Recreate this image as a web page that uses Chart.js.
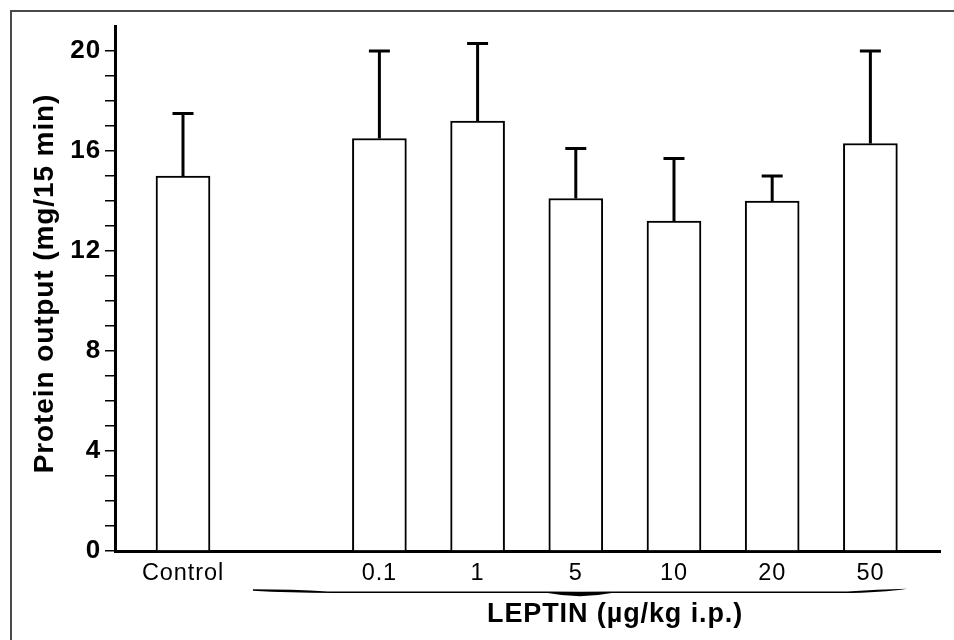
<!DOCTYPE html>
<html>
<head>
<meta charset="utf-8">
<script src="https://cdn.jsdelivr.net/npm/chart.js@4.4.1/dist/chart.umd.min.js"></script>
<style>
html,body{margin:0;padding:0;background:#fff;}
canvas{display:block;}
</style>
</head>
<body>
<canvas id="c" width="954" height="640"></canvas>
<script>
// ---- data ----
const categories = ['Control', '', '0.1', '1', '5', '10', '20', '50'];
const means = [15.0, null, 16.5, 17.2, 14.1, 13.2, 14.0, 16.3];
const sems  = [2.5,  null, 3.5,  3.1,  2.0,  2.5,  1.0,  3.7];
const yLabelEvery = 4;
const yMax = 21;
const yTitle = 'Protein output (mg/15 min)';
const groupTitle = 'LEPTIN (µg/kg i.p.)';

// ---- layout / style constants ----
const FONT = '"Liberation Sans", Arial, Helvetica, sans-serif';
const SPACING = '0.9px';
const X_MIN = -0.6925, X_MAX = 7.709;
const BRACE_FROM = 0.712, BRACE_MID = 4.04, BRACE_TO = 7.375;
const TITLE_AT = 4.40;
const Y_TITLE_X = 45, Y_TITLE_CENTER = 10.7; // centre of the y title, in axis units

const points = [];
categories.forEach((c, i) => { if (means[i] !== null) points.push({ x: i, y: means[i] }); });

const framePlugin = {
  id: 'frame',
  beforeUpdate(chart) { chart.ctx.letterSpacing = SPACING; },
  beforeDraw(chart) {
    const ctx = chart.ctx;
    ctx.save();
    ctx.fillStyle = '#fff';
    ctx.fillRect(0, 0, chart.width, chart.height);
    ctx.strokeStyle = '#4a4a4a';
    ctx.lineWidth = 2;
    ctx.beginPath();
    ctx.moveTo(11, chart.height);
    ctx.lineTo(11, 11);
    ctx.lineTo(chart.width, 11);
    ctx.stroke();
    ctx.restore();
    ctx.letterSpacing = SPACING;
  }
};

const errorBarPlugin = {
  id: 'errorBars',
  afterDatasetsDraw(chart) {
    const meta = chart.getDatasetMeta(0);
    const ys = chart.scales.y;
    const ctx = chart.ctx;
    const data = chart.data.datasets[0].data;
    ctx.save();
    ctx.strokeStyle = '#000';
    ctx.lineWidth = 3;
    meta.data.forEach((el, j) => {
      const i = data[j].x;
      const top = ys.getPixelForValue(means[i] + sems[i]);
      const base = ys.getPixelForValue(means[i]);
      ctx.beginPath();
      ctx.moveTo(el.x, base);
      ctx.lineTo(el.x, top);
      ctx.stroke();
      ctx.beginPath();
      ctx.moveTo(el.x - 10.5, top);
      ctx.lineTo(el.x + 10.5, top);
      ctx.stroke();
    });
    ctx.restore();
  }
};

const textPlugin = {
  id: 'texts',
  afterDraw(chart) {
    const xs = chart.scales.x;
    const ys = chart.scales.y;
    const ctx = chart.ctx;
    const xL = xs.getPixelForValue(BRACE_FROM);
    const xR = xs.getPixelForValue(BRACE_TO);
    const xC = xs.getPixelForValue(BRACE_MID);
    const y0 = chart.chartArea.bottom + 41.3;
    ctx.save();
    ctx.fillStyle = '#000';
    ctx.beginPath();
    ctx.moveTo(xL, y0 - 3);
    ctx.quadraticCurveTo(xL + 40, y0 - 3, xL + 75, y0 - 0.75);
    ctx.lineTo(xC - 32, y0 - 0.75);
    ctx.quadraticCurveTo(xC, y0 - 0.5, xC + 32, y0 - 0.75);
    ctx.lineTo(xR - 60, y0 - 0.75);
    ctx.quadraticCurveTo(xR - 30, y0 - 3, xR, y0 - 3.5);
    ctx.quadraticCurveTo(xR - 25, y0 + 0.5, xR - 65, y0 + 0.75);
    ctx.lineTo(xC + 32, y0 + 0.75);
    ctx.quadraticCurveTo(xC, y0 + 7, xC - 32, y0 + 0.75);
    ctx.lineTo(xL + 80, y0 + 0.75);
    ctx.quadraticCurveTo(xL + 35, y0 + 0.5, xL, y0 - 1.5);
    ctx.closePath();
    ctx.fill();

    ctx.font = 'bold 27px ' + FONT;
    ctx.letterSpacing = SPACING;
    ctx.textAlign = 'center';
    ctx.textBaseline = 'alphabetic';
    ctx.fillText(groupTitle, xs.getPixelForValue(TITLE_AT), chart.chartArea.bottom + 70.5);

    ctx.font = 'bold 28px ' + FONT;
    ctx.textBaseline = 'middle';
    ctx.translate(Y_TITLE_X, ys.getPixelForValue(Y_TITLE_CENTER));
    ctx.rotate(-Math.PI / 2);
    ctx.fillText(yTitle, 0, 0);
    ctx.restore();
  }
};

Chart.defaults.color = '#000';

new Chart(document.getElementById('c'), {
  type: 'bar',
  data: {
    datasets: [{
      data: points,
      backgroundColor: '#fff',
      borderColor: '#000',
      borderWidth: 2,
      barThickness: 54
    }]
  },
  options: {
    responsive: false,
    animation: false,
    devicePixelRatio: 1,
    layout: { padding: { left: 0, top: 26, right: 14, bottom: 0 } },
    plugins: { legend: { display: false }, tooltip: { enabled: false } },
    scales: {
      x: {
        type: 'linear',
        offset: false,
        bounds: 'data',
        min: X_MIN,
        max: X_MAX,
        grid: { display: false, drawTicks: false },
        border: { display: true, color: '#000', width: 3 },
        afterBuildTicks(scale) { scale.ticks = categories.map((c, i) => ({ value: i })); },
        afterFit(scale) { scale.height = 89; },
        ticks: {
          autoSkip: false,
          maxRotation: 0,
          padding: 8,
          color: '#000',
          font: { family: FONT, size: 23.5 },
          callback: (v) => categories[v] !== undefined ? categories[v] : ''
        }
      },
      y: {
        min: 0,
        max: yMax,
        bounds: 'data',
        grid: { display: true, drawOnChartArea: false, drawTicks: true, tickLength: 10, lineWidth: 1.5, color: '#000' },
        border: { display: true, color: '#000', width: 3 },
        afterBuildTicks(scale) { scale.ticks = scale.ticks.filter(t => t.value <= 20); },
        afterFit(scale) { scale.width = 115; },
        ticks: {
          stepSize: 1,
          autoSkip: false,
          padding: 4,
          color: '#000',
          font: { family: FONT, size: 26, weight: 'bold' },
          callback: (v) => (v % yLabelEvery === 0 ? String(v) : '')
        },
        title: { display: false }
      }
    }
  },
  plugins: [framePlugin, errorBarPlugin, textPlugin]
});
</script>
</body>
</html>
